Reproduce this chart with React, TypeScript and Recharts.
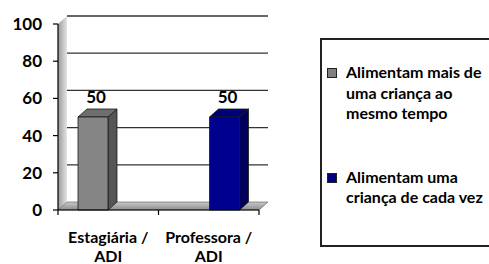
import React from 'react';
import { Bar, BarChart, CartesianGrid, XAxis, YAxis } from 'recharts';

const categories = ['Estagiária / ADI', 'Professora / ADI'];
const seriesNames = ['Alimentam mais de uma criança ao mesmo tempo', 'Alimentam uma criança de cada vez'];
const seriesColors = ['#808080', '#000080'];
const maisDeUma = [50, 0];
const umaDeCadaVez = [0, 50];
const yTicks = [0, 20, 40, 60, 80, 100];

const data = categories.map((name, i) => ({ name, mais: maisDeUma[i], uma: umaDeCadaVez[i] }));

const FONT = 'Lato, "Open Sans", sans-serif';
const PLOT_LEFT = 58;
const PLOT_TOP = 24;
const PLOT_RIGHT = 259;
const PLOT_BOTTOM = 210;
const DX = 9;
const DY = -8;

const faces: Record<string, { front: string; side: string; top: string }> = {
  '#808080': { front: '#858585', side: '#555555', top: '#6e6e6e' },
  '#000080': { front: '#00008f', side: '#00005c', top: '#000078' }
};

function Bar3D(props: any) {
  const { x, y, width, height, fill } = props;
  if (!height || height <= 0) return null;
  const c = faces[fill] || { front: fill, side: fill, top: fill };
  const r = x + width;
  const b = y + height;
  return (
    <g stroke="#1a1a1a" strokeWidth={0.8} strokeLinejoin="round">
      <polygon points={`${r},${y} ${r + DX},${y + DY} ${r + DX},${b + DY} ${r},${b}`} fill={c.side} />
      <polygon points={`${x},${y} ${x + DX},${y + DY} ${r + DX},${y + DY} ${r},${y}`} fill={c.top} />
      <rect x={x} y={y} width={width} height={height} fill={c.front} />
    </g>
  );
}

function gridLine(props: any) {
  const { x1, x2, y1 } = props;
  if (y1 >= PLOT_BOTTOM - 1) {
    const band = (x2 - x1) / categories.length;
    const marks = [];
    for (let i = 0; i <= categories.length; i++) {
      const tx = x1 + band * i;
      marks.push(<line key={i} x1={tx} x2={tx} y1={y1} y2={y1 + 5} stroke="#000" strokeWidth={1.2} />);
    }
    return (
      <g key="floor">
        <defs>
          <linearGradient id="wallGrad" x1="0" y1="0" x2="1" y2="0">
            <stop offset="0" stopColor="#9a9a9a" />
            <stop offset="1" stopColor="#e4e4e4" />
          </linearGradient>
          <linearGradient id="floorGrad" x1="0" y1="1" x2="0" y2="0">
            <stop offset="0" stopColor="#8c8c8c" />
            <stop offset="1" stopColor="#c8c8c8" />
          </linearGradient>
        </defs>
        <polygon
          points={`${PLOT_LEFT},${PLOT_TOP} ${PLOT_LEFT + DX},${PLOT_TOP + DY} ${PLOT_LEFT + DX},${y1 + DY} ${PLOT_LEFT},${y1}`}
          fill="url(#wallGrad)"
        />
        <polygon
          points={`${x1},${y1} ${x1 + DX},${y1 + DY} ${x2 + DX},${y1 + DY} ${x2},${y1}`}
          fill="url(#floorGrad)"
          stroke="#555"
          strokeWidth={0.6}
        />
        {marks}
      </g>
    );
  }
  return <line key={`g${y1}`} x1={x1 + DX} x2={x2 + DX} y1={y1 + DY} y2={y1 + DY} stroke="#333" strokeWidth={1.3} />;
}

function CategoryTick(props: any) {
  const { x, y, payload } = props;
  const words = String(payload.value).split(' ');
  const last = words.pop();
  return (
    <text x={x} y={y} textAnchor="middle" fontFamily={FONT} fontWeight={700} fontSize={16} fill="#000">
      <tspan x={x} dy={25}>{words.join(' ')}</tspan>
      <tspan x={x} dy={19}>{last}</tspan>
    </text>
  );
}

function ValueLabel(props: any) {
  const { x, y, width, value } = props;
  if (!value) return null;
  return (
    <text x={x + width / 2 + 3} y={y - 14} textAnchor="middle" fontFamily={FONT} fontWeight={700} fontSize={17} fill="#000">
      {value}
    </text>
  );
}

function LegendBox() {
  return (
    <div
      style={{
        position: 'absolute',
        left: 320,
        top: 38,
        boxSizing: 'border-box',
        width: 190,
        height: 209,
        border: '2px solid #222',
        paddingLeft: 5,
        fontFamily: FONT,
        fontWeight: 700,
        fontSize: 16,
        lineHeight: '20.5px',
        color: '#000'
      }}
    >
      {seriesNames.map((name, i) => (
        <div key={name} style={{ display: 'flex', alignItems: 'flex-start', marginTop: i === 0 ? 22 : 43 }}>
          <span
            style={{
              display: 'inline-block',
              width: 8,
              height: 8,
              marginTop: 6,
              marginRight: 9,
              background: seriesColors[i],
              border: '1px solid #222',
              flex: 'none'
            }}
          />
          <span style={{ width: 140 }}>{name}</span>
        </div>
      ))}
    </div>
  );
}

export default function App() {
  return (
    <div style={{ position: 'absolute', left: 0, top: 0, width: 489, height: 264, overflow: 'hidden', background: '#fff' }}>
      <BarChart
        width={300}
        height={264}
        data={data}
        margin={{ top: PLOT_TOP, right: 300 - PLOT_RIGHT, bottom: 264 - PLOT_BOTTOM - 30, left: 8 }}
        barSize={30}
        barGap={1}
      >
        <CartesianGrid horizontal={gridLine} vertical={false} />
        <XAxis dataKey="name" axisLine={{ stroke: '#000', strokeWidth: 1.2 }} tickLine={false} tick={<CategoryTick />} interval={0} height={30} />
        <YAxis
          domain={[0, 100]}
          ticks={yTicks}
          width={50}
          axisLine={{ stroke: '#000', strokeWidth: 1.2 }}
          tickLine={{ stroke: '#000', strokeWidth: 1.2 }}
          tickSize={5}
          tickMargin={11}
          tick={{ fill: '#000', fontSize: 17, fontWeight: 700, fontFamily: FONT }}
        />
        <Bar dataKey="mais" name={seriesNames[0]} fill={seriesColors[0]} shape={<Bar3D />} label={<ValueLabel />} isAnimationActive={false} />
        <Bar dataKey="uma" name={seriesNames[1]} fill={seriesColors[1]} shape={<Bar3D />} label={<ValueLabel />} isAnimationActive={false} />
      </BarChart>
      <LegendBox />
    </div>
  );
}
